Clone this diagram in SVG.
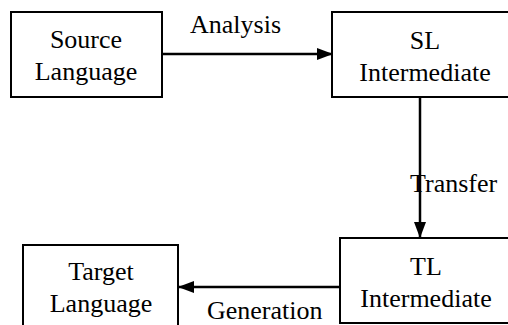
<svg xmlns="http://www.w3.org/2000/svg" width="508" height="325" viewBox="0 0 508 325">
<style>
.box{fill:#fff;stroke:#000;stroke-width:2}
.t{font-family:"Liberation Serif","Times New Roman",Times,serif;font-size:26px;fill:#000}
.m{text-anchor:middle}
.c{stroke:#000;stroke-width:2.5;fill:none}
</style>
<defs>
<marker id="ah" markerWidth="16" markerHeight="12" refX="15" refY="6" orient="auto" markerUnits="userSpaceOnUse">
<path d="M0,0 L16,6 L0,12 Z" fill="#000"/>
</marker>
</defs>
<rect width="508" height="325" fill="#fff"/>
<g id="source">
<rect class="box" x="11" y="12" width="151" height="85"/>
<text class="t m" x="86" y="48">Source</text>
<text class="t m" x="86" y="80">Language</text>
</g>
<g id="sl">
<rect class="box" x="332" y="12" width="180" height="85"/>
<text class="t m" x="425" y="49">SL</text>
<text class="t m" x="425" y="81">Intermediate</text>
</g>
<g id="tl">
<rect class="box" x="340" y="238" width="180" height="85"/>
<text class="t m" x="426" y="275">TL</text>
<text class="t m" x="426" y="307">Intermediate</text>
</g>
<g id="target">
<rect class="box" x="23" y="245" width="155" height="90"/>
<text class="t m" x="101" y="280">Target</text>
<text class="t m" x="101" y="312">Language</text>
</g>
<g id="connectors">
<line class="c" x1="162" y1="54" x2="332" y2="54" marker-end="url(#ah)"/>
<line class="c" x1="420" y1="97" x2="420" y2="237" marker-end="url(#ah)"/>
<line class="c" x1="340" y1="287" x2="179" y2="287" marker-end="url(#ah)"/>
<text class="t" x="190" y="33">Analysis</text>
<text class="t" x="410" y="192">Transfer</text>
<text class="t" x="207" y="319">Generation</text>
</g>
</svg>
